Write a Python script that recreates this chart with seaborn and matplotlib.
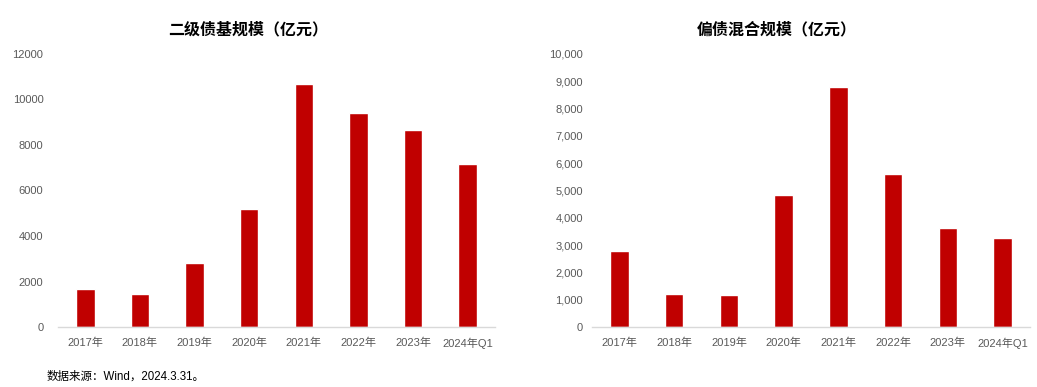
import matplotlib
matplotlib.use("Agg")
import matplotlib.pyplot as plt
import seaborn as sns
import pandas as pd
from matplotlib.ticker import FuncFormatter, MultipleLocator

categories = ["2017年", "2018年", "2019年", "2020年", "2021年", "2022年", "2023年", "2024年Q1"]
secondary_bond = [1670, 1450, 2810, 5190, 10680, 9410, 8660, 7170]
hybrid_bond = [2780, 1210, 1170, 4840, 8790, 5600, 3630, 3260]
title_left = "二级债基规模（亿元）"
title_right = "偏债混合规模（亿元）"
source_text = "数据来源：Wind，2024.3.31。"

sns.set_theme(style="white")
plt.rcParams['font.family'] = ['Liberation Sans', 'Noto Sans CJK SC', 'DejaVu Sans']

BAR = "#C00000"
GRAY = "#595959"

fig = plt.figure(figsize=(10.37, 3.87), dpi=100)
ax1 = fig.add_axes([58/1037, 1-327/387, (495-58)/1037, (327-54)/387])
ax2 = fig.add_axes([592/1037, 1-327/387, (1030-592)/1037, (327-54)/387])

def draw(ax, vals, ymax, step, fmt, pad):
    df = pd.DataFrame({"cat": categories, "val": vals})
    sns.barplot(data=df, x="cat", y="val", color=BAR, saturation=1, width=0.34, ax=ax)
    ax.set_xlim(-0.5, len(categories) - 0.5)
    ax.set_ylim(0, ymax)
    ax.yaxis.set_major_locator(MultipleLocator(step))
    ax.yaxis.set_major_formatter(FuncFormatter(fmt))
    ax.set_xlabel("")
    ax.set_ylabel("")
    for s in ["left", "right", "top"]:
        ax.spines[s].set_visible(False)
    ax.spines["bottom"].set_color("#d9d9d9")
    ax.spines["bottom"].set_linewidth(1)
    ax.tick_params(axis="both", length=0, labelsize=8, labelcolor=GRAY)
    ax.tick_params(axis="y", pad=pad)
    ax.tick_params(axis="x", pad=7.5)
    ax.grid(False)

draw(ax1, secondary_bond, 12000, 2000, lambda v, p: f"{int(v)}", 10.5)
draw(ax2, hybrid_bond, 10000, 1000, lambda v, p: f"{int(v):,}", 6.5)

fig.text(248/1037, 1-30/387, title_left, ha="center", va="center", fontsize=11.5,
         fontweight="bold", color="black")
fig.text(777/1037, 1-30/387, title_right, ha="center", va="center", fontsize=11.5,
         fontweight="bold", color="black")
fig.text(47/1037, 1-377/387, source_text, ha="left", va="center", fontsize=8.3, color="black")

fig.savefig("out.png", dpi=100)
